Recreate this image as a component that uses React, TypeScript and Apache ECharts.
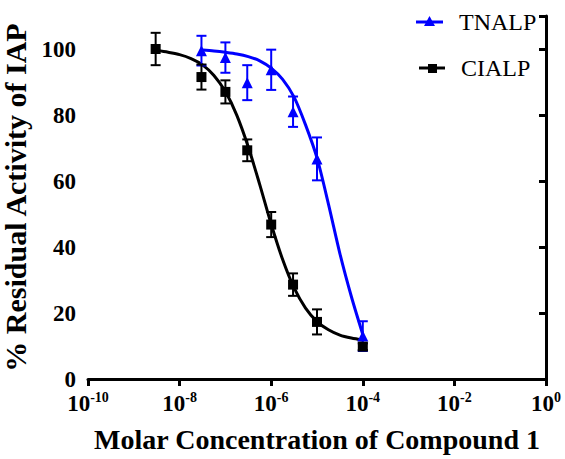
import React, { useEffect, useRef } from "react";
import * as echarts from "echarts";

// Measured points (molar concentration, % residual activity, error)
const cialpConc = [3e-9, 3e-8, 1e-7, 3e-7, 1e-6, 3e-6, 1e-5, 1e-4];
const cialpMean = [100, 91.5, 87, 69.3, 46.8, 28.6, 17.3, 9.8];
const cialpErr = [4.9, 3.8, 3.5, 3.3, 3.8, 3.4, 3.8, 1];

const tnalpConc = [3e-8, 1e-7, 3e-7, 1e-6, 3e-6, 1e-5, 1e-4];
const tnalpMean = [99.5, 97.4, 89.8, 93.7, 81, 66.7, 13];
const tnalpErr = [4.5, 4.6, 5.3, 6.1, 4.6, 6.5, 4.5];

// Fitted curves (log10 concentration, activity)
const cialpCurveLogX = [-8.5, -8.25, -8, -7.75, -7.5, -7.25, -7, -6.75, -6.5, -6.25, -6, -5.75, -5.5, -5.25, -5, -4.75, -4.5, -4.25, -4];
const cialpCurveY = [99.6, 99.0, 98.3, 97.1, 95.2, 92.0, 87.1, 79.9, 70.3, 58.9, 46.9, 36.2, 27.6, 21.5, 17.4, 14.9, 13.3, 12.4, 11.8];

const tnalpCurveLogX = [-7.5, -7.25, -7, -6.75, -6.5, -6.25, -6, -5.75, -5.5, -5.25, -5, -4.75, -4.5, -4.25, -4];
const tnalpCurveY = [99.7, 99.4, 99.0, 98.5, 97.7, 96.4, 94.2, 90.8, 85.4, 77.0, 67.0, 53.0, 38.0, 25.0, 13.5];

// Axis ticks (log10 exponents) and names
const xTickExponents = [-10, -8, -6, -4, -2, 0];
const xAxisTitle = "Molar Concentration of Compound 1";
const yAxisTitle = "% Residual Activity of IAP";
const seriesNames = ["TNALP", "CIALP"];

const BLUE = "#0000ff";
const BLACK = "#000000";
const FONT = "Liberation Serif";

function errorBarSeries(name: string, conc: number[], mean: number[], err: number[], color: string) {
  return {
    type: "custom",
    name,
    z: 3,
    data: conc.map((c, i) => [Math.log10(c), mean[i], err[i]]),
    encode: { x: 0, y: 1 },
    renderItem: (params: any, api: any) => {
      const x = api.value(0);
      const y = api.value(1);
      const e = api.value(2);
      const top = api.coord([x, y + e]);
      const bot = api.coord([x, y - e]);
      const half = 5;
      const style = { stroke: color, lineWidth: 2 };
      return {
        type: "group",
        children: [
          { type: "line", shape: { x1: top[0], y1: top[1], x2: bot[0], y2: bot[1] }, style },
          { type: "line", shape: { x1: top[0] - half, y1: top[1], x2: top[0] + half, y2: top[1] }, style },
          { type: "line", shape: { x1: bot[0] - half, y1: bot[1], x2: bot[0] + half, y2: bot[1] }, style },
        ],
      };
    },
  };
}

export default function App() {
  const ref = useRef<HTMLDivElement>(null);

  useEffect(() => {
    if (!ref.current) return;
    const chart = echarts.init(ref.current, null, { renderer: "svg" });
    const option: any = {
      animation: false,
      backgroundColor: "#ffffff",
      grid: { left: 88, right: 19, top: 16, bottom: 80, containLabel: false, outerBoundsMode: "none" },
      xAxis: {
        type: "value",
        min: -10,
        max: 0,
        interval: 2,
        name: xAxisTitle,
        nameLocation: "middle",
        nameGap: 46,
        nameTextStyle: { fontFamily: FONT, fontSize: 28, fontWeight: "bold", color: BLACK },
        axisLine: { show: true, lineStyle: { color: BLACK, width: 3 } },
        axisTick: { show: true, inside: false, length: 7, lineStyle: { color: BLACK, width: 3 } },
        splitLine: { show: false },
        axisLabel: {
          margin: 11,
          color: BLACK,
          fontSize: 23,
          fontWeight: "bold",
          fontFamily: FONT,
          formatter: (v: number) => (xTickExponents.includes(v) ? `{b|10}{s|${v}}` : ""),
          rich: {
            b: { fontFamily: FONT, fontSize: 23, fontWeight: "bold", color: BLACK, lineHeight: 26 },
            s: { fontFamily: FONT, fontSize: 14, fontWeight: "bold", color: BLACK, verticalAlign: "top", lineHeight: 26, padding: [0, 0, 12, 0] },
          },
        },
      },
      yAxis: [
        {
          type: "value",
          min: 0,
          max: 110,
          interval: 20,
          name: yAxisTitle,
          nameLocation: "middle",
          nameGap: 46,
          nameRotate: 90,
          nameTextStyle: { fontFamily: FONT, fontSize: 30, fontWeight: "bold", color: BLACK },
          axisLine: { show: true, lineStyle: { color: BLACK, width: 3 } },
          axisTick: { show: true, inside: false, length: 7, lineStyle: { color: BLACK, width: 3 } },
          splitLine: { show: false },
          axisLabel: {
            margin: 12,
            fontFamily: FONT,
            fontSize: 23,
            fontWeight: "bold",
            color: BLACK,
            formatter: (v: number) => (v <= 100 ? String(v) : ""),
          },
        },
        {
          type: "value",
          position: "right",
          min: 0,
          max: 110,
          axisLine: { show: true, lineStyle: { color: BLACK, width: 2 } },
          axisTick: { show: false },
          axisLabel: { show: false },
          splitLine: { show: false },
        },
      ],
      series: [
        {
          type: "line",
          name: seriesNames[1] + " fit",
          data: cialpCurveLogX.map((x, i) => [x, cialpCurveY[i]]),
          smooth: 0.3,
          showSymbol: false,
          symbol: "none",
          lineStyle: { color: BLACK, width: 3 },
          z: 2,
        },
        {
          type: "line",
          name: seriesNames[0] + " fit",
          data: tnalpCurveLogX.map((x, i) => [x, tnalpCurveY[i]]),
          smooth: 0.3,
          showSymbol: false,
          symbol: "none",
          lineStyle: { color: BLUE, width: 3 },
          z: 2,
        },
        errorBarSeries(seriesNames[0] + " error", tnalpConc, tnalpMean, tnalpErr, BLUE),
        errorBarSeries(seriesNames[1] + " error", cialpConc, cialpMean, cialpErr, BLACK),
        {
          type: "scatter",
          name: seriesNames[0],
          data: tnalpConc.map((c, i) => [Math.log10(c), tnalpMean[i]]),
          symbol: "triangle",
          symbolSize: 11,
          itemStyle: { color: BLUE, opacity: 1 },
          z: 4,
        },
        {
          type: "scatter",
          name: seriesNames[1],
          data: cialpConc.map((c, i) => [Math.log10(c), cialpMean[i]]),
          symbol: "rect",
          symbolSize: 10,
          itemStyle: { color: BLACK, opacity: 1 },
          z: 5,
        },
      ],
      graphic: [
        { type: "line", shape: { x1: 416, y1: 22, x2: 443, y2: 22 }, style: { stroke: BLUE, lineWidth: 3 } },
        { type: "polygon", shape: { points: [[429.5, 16], [424, 26], [435, 26]] }, style: { fill: BLUE } },
        { type: "text", x: 459, y: 22, style: { text: seriesNames[0], font: `24px ${FONT}`, fill: BLACK, verticalAlign: "middle" } },
        { type: "line", shape: { x1: 419, y1: 68, x2: 445, y2: 68 }, style: { stroke: BLACK, lineWidth: 3 } },
        { type: "rect", shape: { x: 428, y: 64, width: 9, height: 9 }, style: { fill: BLACK } },
        { type: "text", x: 461, y: 68, style: { text: seriesNames[1], font: `24px ${FONT}`, fill: BLACK, verticalAlign: "middle" } },
      ],
    };
    chart.setOption(option);
    return () => chart.dispose();
  }, []);

  return <div ref={ref} style={{ position: "fixed", left: 0, top: 0, width: 565, height: 459 }} />;
}
